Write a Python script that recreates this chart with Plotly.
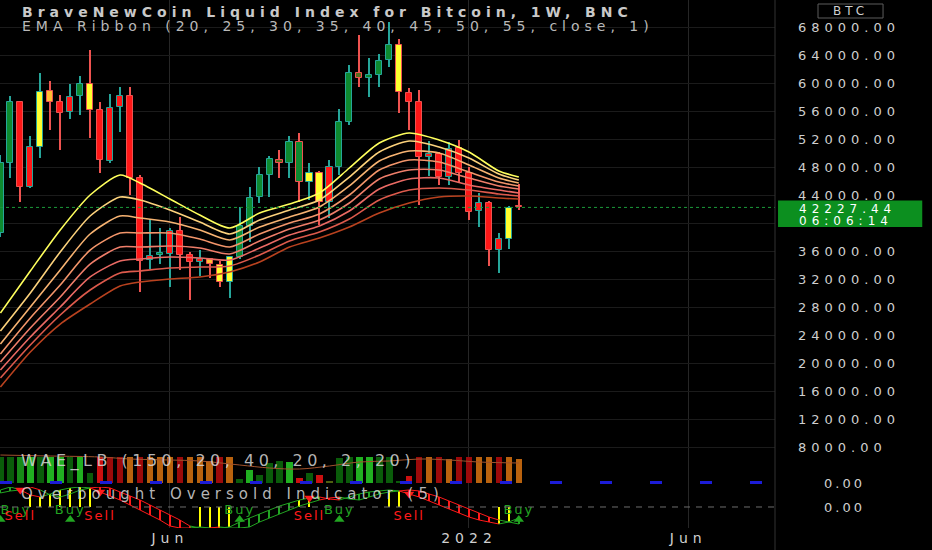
import pandas as pd
import plotly.graph_objects as go
from plotly.subplots import make_subplots

# ---- weekly candles (BNC:BLX), USD ----
weeks = pd.date_range('2021-02-08', periods=53, freq='7D')

opens = [38600, 48600, 57300, 45100, 50900, 58900, 57300, 55800, 58100, 59900,
         56100, 48900, 56600, 58100, 46400, 34700, 35400, 35600, 38800, 35500,
         34500, 34900, 34000, 31600, 35100, 39600, 43700, 46900, 49000, 48600,
         51600, 45900, 47100, 43000, 48000, 54400, 61400, 60700, 61100, 63300,
         65400, 58600, 57300, 49400, 49900, 46600, 50700, 47100, 41700, 42900,
         36100, 37700, 42400]
highs = [49700, 58100, 57500, 52400, 61400, 60300, 58300, 59900, 61000, 64700,
         57300, 58400, 59400, 59400, 46900, 40600, 39300, 39300, 40800, 35800,
         36100, 35000, 34600, 35100, 42300, 45100, 48000, 49600, 50400, 52500,
         52900, 48600, 47400, 49000, 56300, 62600, 66900, 63600, 64100, 68700,
         66300, 59300, 59000, 51700, 50100, 51600, 51900, 48000, 44300, 43100,
         38600, 42400, 45600]
lows = [38000, 46500, 43000, 45000, 49300, 53300, 50400, 54900, 55400, 52100,
        47100, 48600, 53000, 44000, 30100, 33400, 34100, 30900, 33300, 29000,
        32400, 32100, 30900, 29300, 34900, 37300, 42900, 43700, 46400, 46400,
        43000, 43300, 39700, 40700, 46900, 54000, 59400, 58000, 59400, 62300,
        55700, 53300, 42600, 46700, 45400, 45400, 45700, 40400, 39400, 33900,
        32900, 36300, 41900]
closes = [48600, 57300, 45100, 50900, 58700, 57300, 55700, 58000, 59900, 56100,
          49000, 56400, 58100, 46400, 34600, 35300, 35700, 38800, 35500, 34500,
          34900, 34100, 31600, 35100, 39600, 43600, 46900, 49100, 48600, 51600,
          45900, 47200, 43000, 48000, 54400, 61400, 60700, 61100, 63100, 65400,
          58700, 57300, 49400, 49900, 46600, 50600, 47100, 41600, 42900, 36100,
          37700, 42100, 42227.44]
# bar colouring from the chart (g green, r red, y yellow, o orange, v olive)
bar_paint = ['g', 'g', 'r', 'r', 'y', 'o', 'r', 'r', 'g', 'y', 'r', 'r', 'r', 'r',
             'r', 'r', 'g', 'r', 'r', 'r', 'r', 'o', 'y', 'y', 'g', 'g', 'g', 'g',
             'v', 'g', 'g', 'y', 'y', 'r', 'g', 'g', 'v', 'g', 'g', 'g', 'y', 'r',
             'r', 'r', 'r', 'r', 'r', 'r', 'r', 'r', 'r', 'y', 'r']
last_price = closes[-1]

# ---- EMA ribbon (20..55), sampled every ~3 weeks off the picture ----
ema_idx = [0, 3, 6, 9, 12, 14, 17, 20, 23, 26, 29, 32, 35, 38, 41, 44, 47, 50, 52]
ema20 = [27140, 33140, 39000, 44000, 46860, 45710, 43430, 41140, 39290, 41430,
         42710, 44290, 47860, 51430, 52860, 51860, 50140, 47430, 46570]
ema25 = [24570, 30000, 35860, 41000, 43710, 43290, 41860, 40140, 38430, 40430,
         41860, 43290, 46570, 50140, 51710, 50860, 49290, 47000, 46140]
ema30 = [22710, 28000, 33290, 38430, 41000, 40710, 40140, 39000, 37570, 39430,
         40860, 42290, 45290, 48860, 50290, 50000, 48290, 46430, 45710]
ema35 = [21290, 26430, 31140, 36140, 38570, 38570, 38570, 37710, 36570, 38430,
         40000, 41290, 44000, 47570, 49000, 48710, 47290, 45860, 45290]
ema40 = [20140, 25000, 29430, 34140, 36570, 36570, 36710, 36430, 35570, 37430,
         39140, 40430, 42860, 46290, 47570, 47570, 46430, 45290, 44860]
ema45 = [19000, 23710, 28000, 32290, 34570, 34860, 35140, 35000, 34710, 36430,
         38290, 39570, 41710, 44860, 46290, 46430, 45430, 44710, 44290]
ema50 = [17860, 22570, 26860, 30430, 32860, 33140, 33570, 33710, 33860, 35430,
         37430, 38710, 40570, 43290, 44710, 45000, 44710, 44140, 43860]
ema55 = [16570, 21570, 25570, 28430, 31000, 31570, 32000, 32290, 33000, 34430,
         36570, 37860, 39430, 41430, 42860, 43710, 43860, 43570, 43430]
ribbon = [ema20, ema25, ema30, ema35, ema40, ema45, ema50, ema55]
ribbon_colors = ['#ffff5c', '#fcd27c', '#f7b372', '#f3956a', '#ef7e6a',
                 '#ea6a64', '#dd5a4c', '#b9421f']

# ---- WAE_LB histogram ----
wae_hist = [2600, 2600, 2600, 2600, 2600, 2600, 2600, 2600, 2600, 1000,
            2600, 2600, 2600, 2600, 2600, 2600, 2600, 2600, 2600, 2600,
            2600, 2200, 2600, 2600, 400, 1300, 800, 2000, 2200, 2100,
            500, 1000, 800, 200, 2500, 2600, 2600, 2600, 2600, 2600,
            100, 700, 2600, 2600, 2600, 2400, 2600, 2600, 2600, 2600,
            2600, 2600, 2400]
wae_col = ['dg', 'dg', 'mg', 'lg', 'dg', 'lg', 'lg', 'dg', 'lg', 'dg',
           'r', 'dr', 'dr', 'o', 'dr', 'o', 'o', 'o', 'dr', 'o',
           'o', 'o', 'dr', 'o', 'dg', 'lg', 'dg', 'dg', 'dg', 'lg',
           'r', 'dg', 'r', 'v', 'dg', 'dg', 'lg', 'lg', 'dg', 'dg',
           'dg', 'r', 'dr', 'o', 'dr', 'o', 'dr', 'dr', 'o', 'o',
           'dr', 'o', 'o']
expl_idx = [0, 5, 10, 13, 17, 20, 24, 27, 30, 33, 36, 39, 42, 45, 48, 52]
expl_line = [2800, 2700, 2600, 2400, 2300, 2200, 1800, 1500, 1400, 1700,
             2100, 2200, 2400, 2300, 2100, 2000]
dead_zone = 40

# ---- Overbought Oversold Indicator (5) ----
obos_fast = [0.85, 1.0, 0.85, 0.6, 0.5, 0.65, 0.85, 0.95, 1.0, 0.95,
             0.75, 0.55, 0.35, 0.1, -0.15, -0.4, -0.65, -0.95, -1.05, -1.05,
             -1.0, -1.05, -1.05, -1.0, -0.75, -0.55, -0.35, -0.15, 0.05, 0.2,
             0.35, 0.45, 0.5, 0.4, 0.35, 0.5, 0.65, 0.75, 0.8, 0.85,
             0.8, 0.65, 0.5, 0.3, 0.1, -0.1, -0.3, -0.5, -0.65, -0.75,
             -0.85, -0.75, -0.55]
obos_slow = [0.7, 0.8, 0.85, 1.0, 0.85, 0.6, 0.5, 0.65, 0.85, 0.95,
             1.0, 0.95, 0.75, 0.55, 0.35, 0.1, -0.15, -0.4, -0.65, -0.95,
             -1.05, -1.05, -1.0, -1.05, -1.05, -1.0, -0.75, -0.55, -0.35, -0.15,
             0.05, 0.2, 0.35, 0.45, 0.5, 0.4, 0.35, 0.5, 0.65, 0.75,
             0.8, 0.85, 0.8, 0.65, 0.5, 0.3, 0.1, -0.1, -0.3, -0.5,
             -0.65, -0.75, -0.85]
obos_hot = [3, 4, 5, 6, 7, 8, 9, 20, 21, 22, 23, 30, 31, 39, 40, 50, 51]
buy_idx = [0, 7, 24, 34, 52]
sell_idx = [2, 10, 31, 41]

price_ticks = list(range(8000, 68001, 4000))
time_ticks = ['2021-06-07', '2022-01-03', '2022-06-06']
time_labels = ['Jun', '2022', 'Jun']

FILL = {'g': '#0e8a30', 'r': '#ff1717', 'y': '#ffff2e', 'o': '#ffbd33', 'v': '#566c1c'}
UP, DOWN = '#26a69a', '#ef5350'
WAE = {'dg': '#0a5c0a', 'mg': '#178a17', 'lg': '#21b021', 'r': '#cc1010',
       'dr': '#9c0a0a', 'o': '#b9620e', 'v': '#4f6010'}
OB = {'g': '#22a522', 'r': '#ff1a1a', 'y': '#ffff00'}
WEEK_MS = 7 * 24 * 3600 * 1000
TXT = '#cfcfcf'


def wide(s, px):
    # the screenshot's fonts are very wide; spread the letters a bit
    return f'<span style="letter-spacing:{px}px">{s}</span>'


fig = make_subplots(rows=3, cols=1, shared_xaxes=True, vertical_spacing=0)

# candles: wicks then bodies
edge = [UP if c >= o else DOWN for o, c in zip(opens, closes)]
fig.add_trace(go.Bar(x=weeks, y=[h - l for h, l in zip(highs, lows)], base=lows,
                     width=0.13 * WEEK_MS, marker=dict(color=edge, line=dict(width=0))),
              row=1, col=1)
body_base = [min(o, c) for o, c in zip(opens, closes)]
body_h = [max(abs(c - o), 110) for o, c in zip(opens, closes)]
fig.add_trace(go.Bar(x=weeks, y=body_h, base=body_base, width=0.62 * WEEK_MS,
                     marker=dict(color=[FILL[p] for p in bar_paint],
                                 line=dict(color=edge, width=1))),
              row=1, col=1)

# EMA ribbon (longest first so yellow sits on top)
ema_x = [weeks[i] for i in ema_idx]
for vals, col in reversed(list(zip(ribbon, ribbon_colors))):
    fig.add_trace(go.Scatter(x=ema_x, y=vals, mode='lines',
                             line=dict(color=col, width=1.6, shape='spline', smoothing=0.7)),
                  row=1, col=1)

fig.add_hline(y=last_price, row=1, col=1, line=dict(color='#1b9a3a', width=1, dash='dot'))

# WAE pane
fig.add_trace(go.Bar(x=weeks, y=wae_hist, width=0.66 * WEEK_MS,
                     marker=dict(color=[WAE[c] for c in wae_col], line=dict(width=0))),
              row=2, col=1)
fig.add_trace(go.Scatter(x=[weeks[i] for i in expl_idx], y=expl_line, mode='lines',
                         line=dict(color='#a0522d', width=1, shape='spline')),
              row=2, col=1)
fig.add_hline(y=dead_zone, row=2, col=1, line=dict(color='#1c1cd8', width=3, dash='12px,38px'))

# OBOS pane
n = len(obos_fast)
trend = ['g' if f >= s else 'r' for f, s in zip(obos_fast, obos_slow)]
hatch_base, hatch_h, hatch_c = [], [], []
for i in range(n):
    if i in obos_hot:
        hatch_base.append(0)
        hatch_h.append(obos_fast[i])
        hatch_c.append(OB['y'])
    else:
        hatch_base.append(min(obos_fast[i], obos_slow[i]))
        hatch_h.append(abs(obos_fast[i] - obos_slow[i]))
        hatch_c.append(OB[trend[i]])
fig.add_trace(go.Bar(x=weeks, y=hatch_h, base=hatch_base, width=0.15 * WEEK_MS,
                     marker=dict(color=hatch_c, line=dict(width=0))),
              row=3, col=1)

a = 1
for i in range(1, n):
    if i == n - 1 or trend[i + 1] != trend[i]:
        pts = list(range(a - 1, i + 1))
        for series in (obos_fast, obos_slow):
            fig.add_trace(go.Scatter(x=[weeks[j] for j in pts], y=[series[j] for j in pts],
                                     mode='lines', line=dict(color=OB[trend[i]], width=1)),
                          row=3, col=1)
        a = i + 1

fig.add_hline(y=0, row=3, col=1, line=dict(color='#6e6e6e', width=1, dash='6px,6px'))

fig.add_trace(go.Scatter(x=[weeks[i] for i in buy_idx], y=[-0.62] * len(buy_idx),
                         mode='markers', marker=dict(symbol='triangle-up', size=9, color=OB['g'])),
              row=3, col=1)
fig.add_trace(go.Scatter(x=[weeks[i] for i in buy_idx], y=[-0.2] * len(buy_idx),
                         mode='text', text=[wide('Buy', 2)] * len(buy_idx),
                         textposition=['middle right'] + ['middle center'] * (len(buy_idx) - 1),
                         textfont=dict(color=OB['g'], size=13)),
              row=3, col=1)
fig.add_trace(go.Scatter(x=[weeks[i] for i in sell_idx], y=[obos_fast[i] for i in sell_idx],
                         mode='markers', marker=dict(symbol='triangle-down', size=9, color=OB['r'])),
              row=3, col=1)
fig.add_trace(go.Scatter(x=[weeks[i] for i in sell_idx], y=[-0.5] * len(sell_idx),
                         mode='text', text=[wide('Sell', 2)] * len(sell_idx),
                         textfont=dict(color=OB['r'], size=13)),
              row=3, col=1)

# axes ("40000.00" sits under the live price tag in the original)
price_text = ['' if v == 40000 else wide(f'{v:.2f}', 5) for v in price_ticks]
fig.update_xaxes(range=['2021-02-07 17:00', '2022-08-05 21:00'],
                 tickvals=time_ticks, ticktext=[wide(t, 5) for t in time_labels],
                 showgrid=True, gridcolor='#262626', zeroline=False, showline=False,
                 ticks='', tickfont=dict(size=14, color=TXT))
fig.update_layout(
    yaxis=dict(domain=[0.1439, 1], range=[7286, 71857], side='right',
               tickvals=price_ticks, ticktext=price_text, showgrid=True, gridcolor='#1b1b1b',
               zeroline=False, ticks='', ticklabelstandoff=22,
               tickfont=dict(size=13, color=TXT)),
    yaxis2=dict(domain=[0.0777, 0.1439], range=[-400, 3100], side='right',
                tickvals=[0], ticktext=[wide('0.00', 3)], showgrid=False, zeroline=False,
                ticks='', ticklabelstandoff=48, tickfont=dict(size=13, color=TXT)),
    yaxis3=dict(domain=[0, 0.0777], range=[-1.05, 1.0], side='right',
                tickvals=[0], ticktext=[wide('0.00', 3)], showgrid=False, zeroline=False,
                ticks='', ticklabelstandoff=48, tickfont=dict(size=13, color=TXT)),
)

# right scale border
fig.add_shape(type='line', xref='paper', yref='paper', x0=1, x1=1, y0=-0.045, y1=1,
              line=dict(color='#333333', width=1))

# last price tag
fig.add_shape(type='rect', xref='paper', yref='y', x0=1.0039, x1=1.19,
              y0=last_price - 2800, y1=last_price + 1000,
              fillcolor='#0c8f1f', line=dict(width=0), layer='above')
fig.add_annotation(xref='paper', yref='y', x=1.0284, y=last_price - 250, xanchor='left',
                   yanchor='middle', text=wide(f'{last_price:.2f}', 5),
                   showarrow=False, font=dict(size=12, color='white'))
fig.add_annotation(xref='paper', yref='y', x=1.0284, y=last_price - 1950, xanchor='left',
                   yanchor='middle', text=wide('06:06:14', 5),
                   showarrow=False, font=dict(size=12, color='white'))

# currency badge
fig.add_shape(type='rect', xref='paper', yref='paper', x0=1.0555, x1=1.1394,
              y0=0.9659, y1=0.9924, line=dict(color='#5c5c5c', width=1))
fig.add_annotation(xref='paper', yref='paper', x=1.0974, y=0.9792, xanchor='center',
                   yanchor='middle', text=wide('BTC', 4),
                   showarrow=False, font=dict(size=12, color=TXT))

# legends / titles
fig.add_annotation(xref='paper', yref='paper', x=0.0258, y=0.977, xanchor='left', yanchor='middle',
                   text='<b>' + wide('BraveNewCoin Liquid Index for Bitcoin, 1W, BNC', 5) + '</b>',
                   showarrow=False, font=dict(size=14, color='#c9c9c9'))
fig.add_annotation(xref='paper', yref='paper', x=0.0258, y=0.9508, xanchor='left', yanchor='middle',
                   text=wide('EMA Ribbon (20, 25, 30, 35, 40, 45, 50, 55, close, 1)', 5),
                   showarrow=False, font=dict(size=14, color='#b9b9b9'))
fig.add_annotation(xref='paper', yref='paper', x=0.024, y=0.127, xanchor='left', yanchor='middle',
                   text=wide('WAE_LB (150, 20, 40, 20, 2, 20)', 4.5),
                   showarrow=False, font=dict(size=16, color='rgba(215,215,215,0.85)'))
fig.add_annotation(xref='paper', yref='paper', x=0.024, y=0.0644, xanchor='left', yanchor='middle',
                   text=wide('Overbought Oversold Indicator (5)', 5),
                   showarrow=False, font=dict(size=15, color='rgba(215,215,215,0.85)'))

fig.update_layout(
    width=932, height=550,
    margin=dict(l=0, r=157, t=0, b=22),
    paper_bgcolor='black', plot_bgcolor='black',
    barmode='overlay', bargap=0, showlegend=False, hovermode=False,
    font=dict(family='DejaVu Sans', color=TXT),
)

# drop the browser's default page margin so the figure sits flush at 0,0
fig.write_html('out.html', config={'displayModeBar': False},
               post_script="document.body.style.margin='0';")
